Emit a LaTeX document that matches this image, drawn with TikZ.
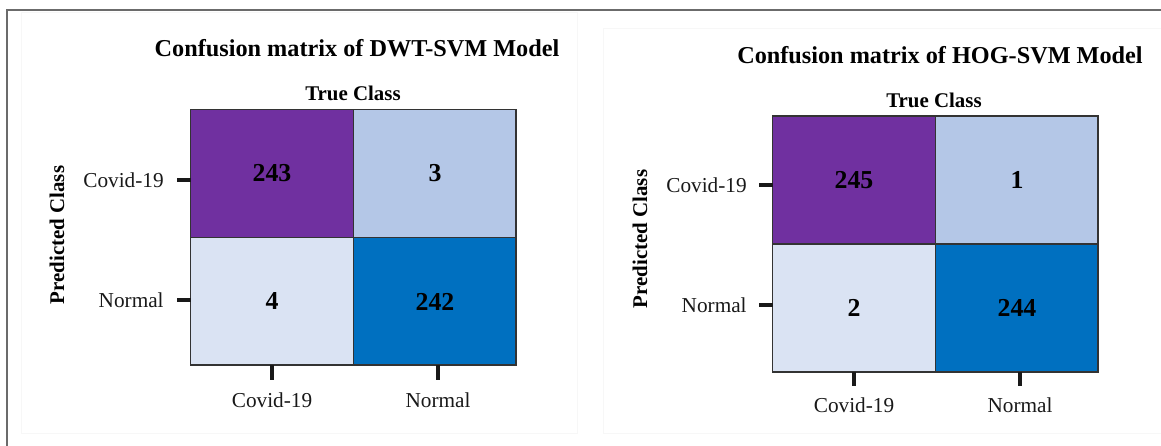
\documentclass[tikz,border=0pt]{standalone}
\usepackage{fontspec}
\setmainfont{Liberation Serif}
\usepackage{tikz}
\usetikzlibrary{positioning}
\definecolor{cmpurple}{HTML}{7030A0}
\definecolor{cmsky}{HTML}{B4C7E7}
\definecolor{cmpale}{HTML}{DAE3F3}
\definecolor{cmblue}{HTML}{0070C0}
\definecolor{cmedge}{HTML}{333333}
\tikzstyle{cellbox} = [rectangle, minimum width=3.26cm, minimum height=2.56cm, draw=cmedge, line width=1.1pt, outer sep=0pt, inner sep=0pt, text centered, font=\fontsize{14.7}{17}\selectfont\bfseries]
\tikzstyle{heading} = [inner sep=0pt, font=\fontsize{13.8}{16}\selectfont\bfseries]
\tikzstyle{axistitle} = [inner sep=0pt, font=\fontsize{11.9}{14}\selectfont\bfseries]
\tikzstyle{ticklabel} = [inner sep=0pt, text=black!90, font=\fontsize{12.1}{14}\selectfont]
\tikzstyle{axtick} = [line width=1.8pt, black!90]

\begin{document}
\begin{tikzpicture}[x=0.02cm, y=-0.02cm]
\useasboundingbox (0,0) rectangle (1161,446);

% frame and faint panel edges
\draw [black!3, line width=0.5pt] (21,12) rectangle (577,433);
\draw [black!3, line width=0.5pt] (1161,28) -- (603,28) -- (603,433) -- (1161,433);
\draw [black!58, line width=1.1pt] (7,446) -- (7,10) -- (1161,10);

% DWT-SVM
\node (dwttitle) [heading] at (357,48) {Confusion matrix of DWT-SVM Model};
\node (dwtcc) [cellbox, fill=cmpurple] at (272,173.5) {243};
\node (dwtcn) [cellbox, fill=cmsky, right=0pt of dwtcc] {3};
\node (dwtnc) [cellbox, fill=cmpale, below=0pt of dwtcc] {4};
\node (dwtnn) [cellbox, fill=cmblue, right=0pt of dwtnc] {242};
\node (dwttrue) [axistitle] at (353,93) {True Class};
\node (dwtpred) [axistitle, rotate=90] at (57,235) {Predicted Class};
\node (dwtrowc) [ticklabel, anchor=east] at (164,180) {Covid-19};
\node (dwtrown) [ticklabel, anchor=east] at (164,300) {Normal};
\node (dwtcolc) [ticklabel] at (272,400) {Covid-19};
\node (dwtcoln) [ticklabel] at (438,400) {Normal};
\draw [axtick] (dwtcc.west |- dwtrowc) -- ++(-14,0);
\draw [axtick] (dwtnc.west |- dwtrown) -- ++(-14,0);
\draw [axtick] (dwtcolc |- dwtnc.south) -- ++(0,15);
\draw [axtick] (dwtcoln |- dwtnn.south) -- ++(0,15);

% HOG-SVM
\node (hogtitle) [heading] at (940,55) {Confusion matrix of HOG-SVM Model};
\node (hogcc) [cellbox, fill=cmpurple] at (854,180) {245};
\node (hogcn) [cellbox, fill=cmsky, right=0pt of hogcc] {1};
\node (hognc) [cellbox, fill=cmpale, below=0pt of hogcc] {2};
\node (hognn) [cellbox, fill=cmblue, right=0pt of hognc] {244};
\node (hogtrue) [axistitle] at (934,100) {True Class};
\node (hogpred) [axistitle, rotate=90] at (640,239) {Predicted Class};
\node (hogrowc) [ticklabel, anchor=east] at (747,185) {Covid-19};
\node (hogrown) [ticklabel, anchor=east] at (747,305) {Normal};
\node (hogcolc) [ticklabel] at (854,405) {Covid-19};
\node (hogcoln) [ticklabel] at (1020,405) {Normal};
\draw [axtick] (hogcc.west |- hogrowc) -- ++(-14,0);
\draw [axtick] (hognc.west |- hogrown) -- ++(-14,0);
\draw [axtick] (hogcolc |- hognc.south) -- ++(0,14);
\draw [axtick] (hogcoln |- hognn.south) -- ++(0,14);

\end{tikzpicture}
\end{document}
